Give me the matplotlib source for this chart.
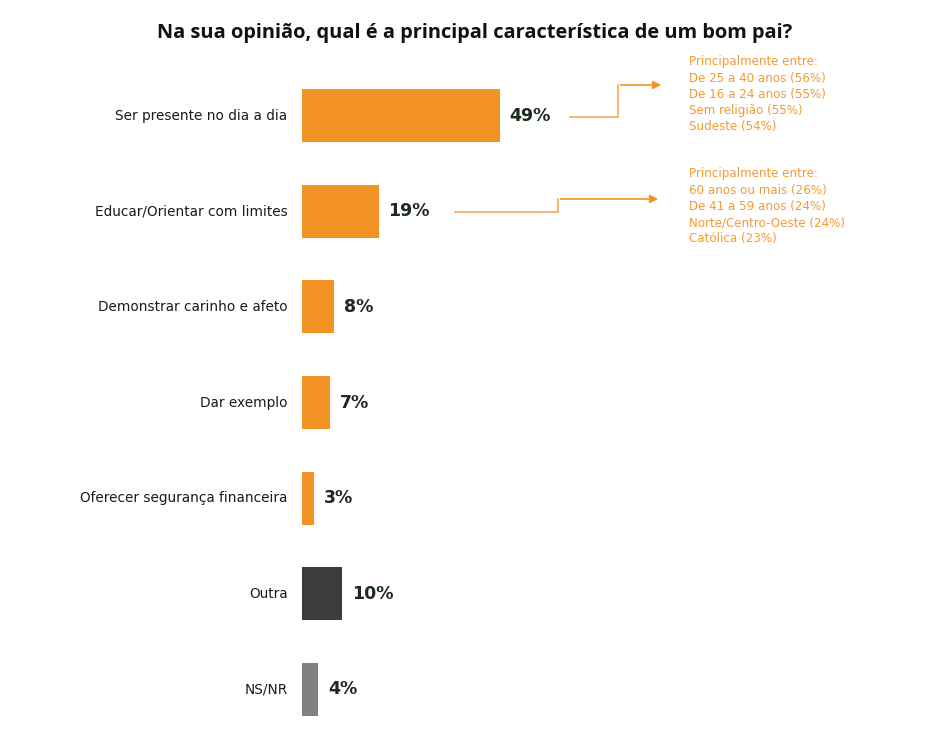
import matplotlib.pyplot as plt
from matplotlib.patches import FancyArrowPatch

plt.rcParams['font.family'] = ['DejaVu Sans']

# data
categories = ['Ser presente no dia a dia', 'Educar/Orientar com limites',
              'Demonstrar carinho e afeto', 'Dar exemplo',
              'Oferecer segurança financeira', 'Outra', 'NS/NR']
values = [49, 19, 8, 7, 3, 10, 4]
bar_colors = ['#F39325'] * 5 + ['#3C3C3E', '#818181']

notes_1 = ['Principalmente entre:', 'De 25 a 40 anos (56%)', 'De 16 a 24 anos (55%)',
           'Sem religião (55%)', 'Sudeste (54%)']
notes_2 = ['Principalmente entre:', '60 anos ou mais (26%)', 'De 41 a 59 anos (24%)',
           'Norte/Centro-Oeste (24%)', 'Católica (23%)']

W, H = 949, 743
fig = plt.figure(figsize=(W / 100, H / 100), dpi=100)
fig.patch.set_facecolor('white')

# axes placed so bars start at x=302px, rows ~95.5px apart
ax = fig.add_axes([302 / W, 1 - 737 / H, (W - 302) / W, 669 / H])
ypos = list(range(len(categories)))
ax.barh(ypos, values, height=0.555, color=bar_colors)
ax.set_xlim(0, (W - 302) / 4.04)
ax.set_ylim(len(categories) - 0.5, -0.5)
ax.axis('off')

for y, v, name in zip(ypos, values, categories):
    ax.text(v + 2.4, y, f'{v}%', va='center', ha='left', fontsize=12.5,
            fontweight='bold', color='#1C2B1C')
    ax.text(-3.6, y, name, va='center', ha='right', fontsize=9.8, color='#1A1A1A')

fig.text(0.5, 1 - 33 / H, 'Na sua opinião, qual é a principal característica de um bom pai?',
         ha='center', va='center', fontsize=14.4, fontweight='bold',
         family='Open Sans', color='#111111')

# elbow arrows to the side notes (figure pixel coords)
def px(x, y):
    return (x / W, 1 - y / H)

arrow_color = '#F5A85A'
for pts in ([(570, 117), (618, 117), (618, 85), (664, 85)],
            [(455, 212), (558, 212), (558, 199), (661, 199)]):
    xs = [px(*p)[0] for p in pts[:-1]]
    ys = [px(*p)[1] for p in pts[:-1]]
    fig.add_artist(plt.Line2D(xs, ys, color=arrow_color, lw=1.2))
    fig.add_artist(FancyArrowPatch(px(*pts[-2]), px(*pts[-1]), transform=fig.transFigure,
                                   arrowstyle='-|>', mutation_scale=12,
                                   color='#F39325', lw=1.2))

for top, lines in ((62, notes_1), (174, notes_2)):
    for i, line in enumerate(lines):
        fig.text(689 / W, 1 - (top + i * 16.2) / H, line, ha='left', va='center',
                 fontsize=8.6, color='#F39A33')

fig.savefig('out.png', dpi=100, facecolor='white')
